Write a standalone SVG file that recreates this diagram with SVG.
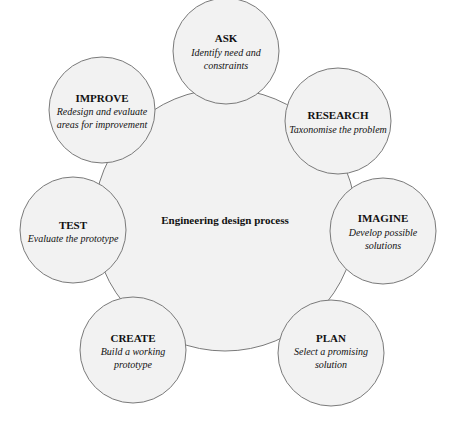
<svg xmlns="http://www.w3.org/2000/svg" width="451" height="441" viewBox="0 0 451 441">
<style>
.c{fill:#f2f2f2;stroke:#7a7a7a;stroke-width:1}
.t{font-family:"Liberation Serif","Times New Roman",serif;font-weight:bold;font-size:11px;fill:#111;text-anchor:middle}
.s{font-family:"Liberation Serif","Times New Roman",serif;font-style:italic;font-size:10px;fill:#111;text-anchor:middle}
</style>
<rect width="451" height="441" fill="#ffffff"/>
<g id="center">
<circle class="c" cx="225" cy="220" r="131"/>
<text class="t" x="225" y="224">Engineering design process</text>
</g>
<g id="connectors"/>
<g id="ask">
<circle class="c" cx="226" cy="51" r="53"/>
<text class="t" x="226" y="42">ASK</text>
<text class="s" x="226" y="56">Identify need and</text>
<text class="s" x="226" y="69">constraints</text>
</g>
<g id="research">
<circle class="c" cx="338" cy="121" r="53"/>
<text class="t" x="338" y="119">RESEARCH</text>
<text class="s" x="338" y="133">Taxonomise the problem</text>
</g>
<g id="imagine">
<circle class="c" cx="383" cy="231" r="53"/>
<text class="t" x="383" y="222">IMAGINE</text>
<text class="s" x="383" y="236">Develop possible</text>
<text class="s" x="383" y="249">solutions</text>
</g>
<g id="plan">
<circle class="c" cx="331" cy="353" r="53"/>
<text class="t" x="331" y="342">PLAN</text>
<text class="s" x="331" y="355">Select a promising</text>
<text class="s" x="331" y="368">solution</text>
</g>
<g id="create">
<circle class="c" cx="133" cy="350" r="53"/>
<text class="t" x="133" y="342">CREATE</text>
<text class="s" x="133" y="355">Build a working</text>
<text class="s" x="133" y="368">prototype</text>
</g>
<g id="test">
<circle class="c" cx="73" cy="230" r="53"/>
<text class="t" x="73" y="229">TEST</text>
<text class="s" x="73" y="242">Evaluate the prototype</text>
</g>
<g id="improve">
<circle class="c" cx="102" cy="110" r="53"/>
<text class="t" x="102" y="102">IMPROVE</text>
<text class="s" x="102" y="115">Redesign and evaluate</text>
<text class="s" x="102" y="128">areas for improvement</text>
</g>
</svg>
